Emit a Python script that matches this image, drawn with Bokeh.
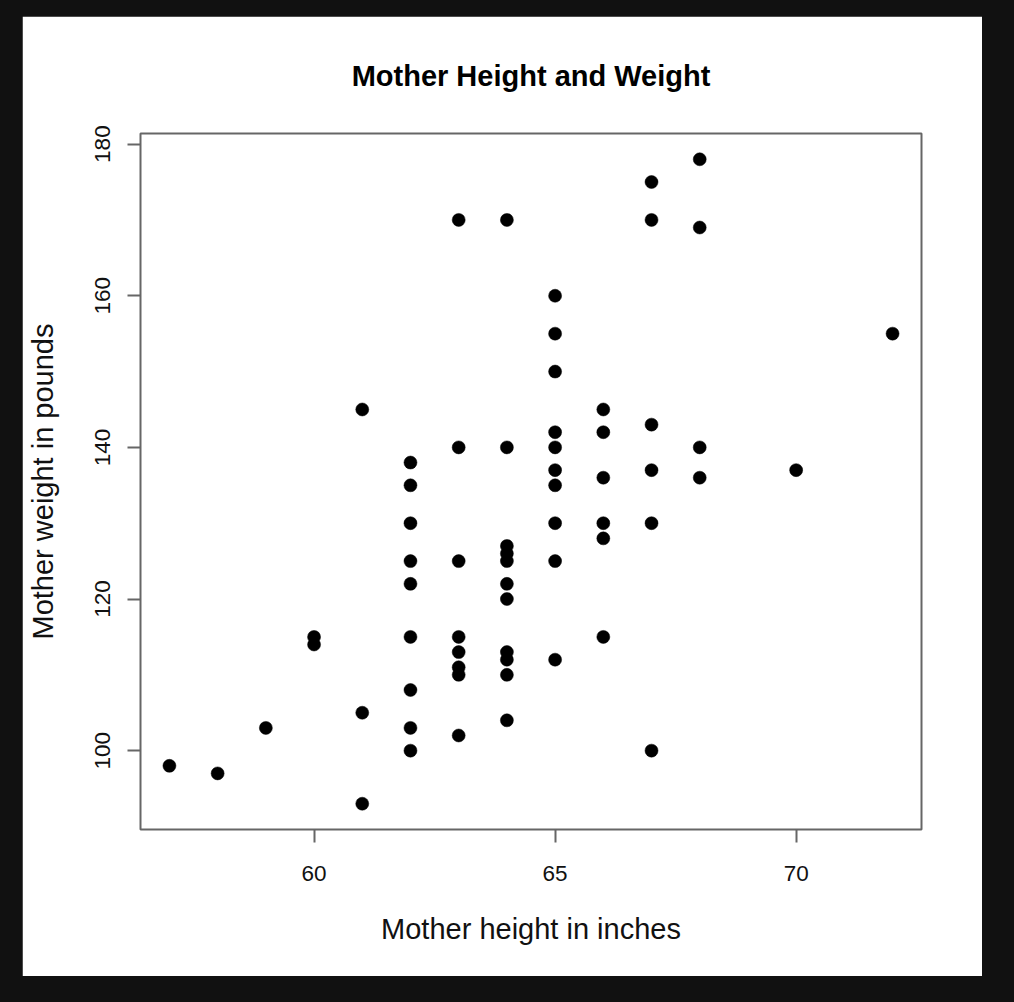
from bokeh.plotting import figure
from bokeh.models import FixedTicker, Range1d
from bokeh.embed import file_html
from bokeh.resources import INLINE

# Mother height (inches) and weight (pounds)
heights = [57, 58, 59, 60, 60,
           61, 61, 61,
           62, 62, 62, 62, 62, 62, 62, 62, 62,
           63, 63, 63, 63, 63, 63, 63, 63,
           64, 64, 64, 64, 64, 64, 64, 64, 64, 64, 64,
           65, 65, 65, 65, 65, 65, 65, 65, 65, 65,
           66, 66, 66, 66, 66, 66,
           67, 67, 67, 67, 67, 67,
           68, 68, 68, 68,
           70, 72]
weights = [98, 97, 103, 115, 114,
           145, 105, 93,
           138, 135, 130, 125, 122, 115, 108, 103, 100,
           170, 140, 125, 115, 113, 111, 110, 102,
           170, 140, 127, 126, 125, 122, 120, 113, 112, 110, 104,
           160, 155, 150, 142, 140, 137, 135, 130, 125, 112,
           145, 142, 136, 130, 128, 115,
           175, 170, 143, 137, 130, 100,
           178, 169, 140, 136,
           137, 155]

x_ticks = [60, 65, 70]
y_ticks = [100, 120, 140, 160, 180]

FONT = "Liberation Sans"

p = figure(width=960, height=960, output_backend="svg", toolbar_location=None,
           x_range=Range1d(56.4, 72.6), y_range=Range1d(89.6, 181.4),
           min_border_left=118, min_border_right=61,
           min_border_top=117, min_border_bottom=147,
           title="Mother Height and Weight")

try:
    from bokeh.models import GlobalInlineStyleSheet
    p.stylesheets = [GlobalInlineStyleSheet(css="html, body { background-color: #111111 !important; }")]
except Exception:
    pass
p.margin = (16, 0, 0, 22)

p.background_fill_color = "white"
p.border_fill_color = "white"
p.outline_line_color = "#666666"
p.outline_line_width = 2
p.xgrid.visible = False
p.ygrid.visible = False

p.title.text_font = FONT
p.title.text_font_size = "29px"
p.title.text_font_style = "bold"
p.title.text_color = "#000000"
p.title.align = "center"
p.title.standoff = 83

for ax, ticks in ((p.xaxis[0], x_ticks), (p.yaxis[0], y_ticks)):
    ax.ticker = FixedTicker(ticks=ticks)
    ax.minor_tick_line_color = None
    ax.axis_line_color = None
    ax.major_tick_in = 0
    ax.major_tick_out = 13
    ax.major_tick_line_color = "#666666"
    ax.major_tick_line_width = 2
    ax.major_label_text_font = FONT
    ax.major_label_text_font_size = "22.5px"
    ax.major_label_text_color = "#111111"
    ax.axis_label_text_font = FONT
    ax.axis_label_text_font_size = "29px"
    ax.axis_label_text_font_style = "normal"
    ax.axis_label_text_color = "#111111"

p.xaxis.axis_label = "Mother height in inches"
p.yaxis.axis_label = "Mother weight in pounds"
p.xaxis.major_label_standoff = 23
p.xaxis.axis_label_standoff = 29
p.yaxis.major_label_orientation = "vertical"
p.yaxis.major_label_standoff = 17
p.yaxis.axis_label_standoff = 34
p.yaxis.axis_label_text_line_height = 0.6

p.scatter(heights, weights, size=13, marker="circle",
          fill_color="black", line_color="black", line_width=0.5)

open("out.html", "w").write(file_html(p, INLINE))
